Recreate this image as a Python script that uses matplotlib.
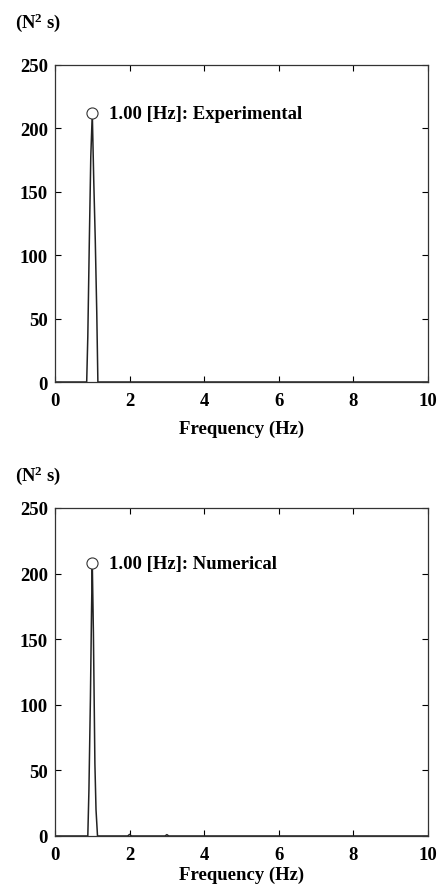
import matplotlib.pyplot as plt

plt.rcParams['font.family'] = ['Liberation Serif', 'DejaVu Serif']
plt.rcParams['font.weight'] = 'bold'
plt.rcParams['mathtext.fontset'] = 'custom'
plt.rcParams['mathtext.rm'] = 'Liberation Serif:bold'
plt.rcParams['mathtext.it'] = 'Liberation Serif:bold'
plt.rcParams['mathtext.bf'] = 'Liberation Serif:bold'

# experimental spectrum (N^2 s vs Hz)
exp_freq = [0.0, 0.85, 0.88, 0.92, 0.96, 1.00, 1.04, 1.08, 1.12, 1.15, 10.0]
exp_vals = [0.0, 0.0, 36.0, 110.0, 178.0, 212.0, 158.0, 112.0, 55.0, 0.0, 0.0]

# numerical spectrum
num_freq = [0.0, 0.88, 0.91, 0.95, 0.98, 1.00, 1.03, 1.07, 1.10, 1.14, 1.95, 2.0, 2.05, 2.95, 3.0, 3.05, 10.0]
num_vals = [0.0, 0.0, 35.0, 105.0, 172.0, 208.0, 155.0, 55.0, 20.0, 0.0, 0.0, 1.2, 0.0, 0.0, 1.0, 0.0, 0.0]

peaks = [(1.00, 212.0, '1.00 [Hz]: Experimental'), (1.00, 208.0, '1.00 [Hz]: Numerical')]

xticks = [0, 2, 4, 6, 8, 10]
yticks = [0, 50, 100, 150, 200, 250]

fig = plt.figure(figsize=(4.42, 8.87), dpi=100)
ax1 = fig.add_axes([0.1244, 0.5682, 0.8439, 0.3574])
ax2 = fig.add_axes([0.1244, 0.0564, 0.8439, 0.3698])

data = [(ax1, exp_freq, exp_vals), (ax2, num_freq, num_vals)]
for (ax, f, v), (pf, pv, label) in zip(data, peaks):
    ax.plot(f, v, color='#222222', lw=1.1)
    ax.plot([pf], [pv], 'o', mfc='white', mec='#333333', ms=8, mew=0.8)
    ax.text(pf + 0.45, pv, label, fontsize=13.5, fontweight='bold', va='center', ha='left')
    ax.set_xlim(0, 10)
    ax.set_ylim(0, 250)
    ax.set_xticks(xticks)
    ax.set_yticks(yticks)
    ax.tick_params(direction='in', top=True, right=True, length=4, width=0.8,
                   labelsize=13.5, pad=5)
    ax.tick_params(axis='x', pad=7)
    for lbl in ax.get_xticklabels() + ax.get_yticklabels():
        lbl.set_fontweight('bold')
    for s in ax.spines.values():
        s.set_linewidth(0.9)
        s.set_color('#333333')

ax1.set_xlabel('Frequency (Hz)', fontsize=13.5, fontweight='bold', labelpad=8)
ax2.set_xlabel('Frequency (Hz)', fontsize=13.5, fontweight='bold', labelpad=2)

fig.text(0.033, 0.974, '(N$^{2}$ s)', fontsize=13.5, fontweight='bold', va='center')
fig.text(0.033, 0.464, '(N$^{2}$ s)', fontsize=13.5, fontweight='bold', va='center')

fig.savefig('out.png', dpi=100)
